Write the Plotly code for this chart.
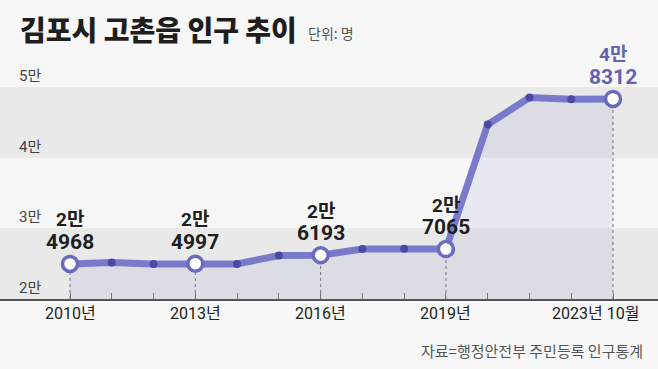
import plotly.graph_objects as go

years = ["2010", "2011", "2012", "2013", "2014", "2015", "2016", "2017", "2018", "2019", "2020", "2021", "2022", "2023.10"]
population = [24968, 25180, 24950, 24997, 24960, 26150, 26193, 27080, 27100, 27065, 44700, 48500, 48250, 48312]
labeled_idx = [0, 3, 6, 9, 13]
label_top = ["2만", "2만", "2만", "2만", "4만"]
label_num = ["4968", "4997", "6193", "7065", "8312"]
xtick_text = ["2010년", "2013년", "2016년", "2019년", "2023년 10월"]
ytick_vals = [20000, 30000, 40000, 50000]
ytick_text = ["2만", "3만", "4만", "5만"]
bands = [(20000, 30000), (40000, 50000)]

NARROW = "Roboto, Noto Sans CJK KR, sans-serif"
CJK = "Noto Sans CJK KR, sans-serif"
LINE = "#7a7acb"
DOT = "#4a4aa6"
BG = "#f7f7f7"
BAND = "#e9e9e9"

xs = list(range(len(years)))
fig = go.Figure()

fig.add_trace(go.Scatter(
    x=xs, y=population, mode="lines",
    line=dict(color=LINE, width=7),
    fill="tozeroy", fillcolor="rgba(110,110,200,0.10)",
    hoverinfo="skip", showlegend=False, cliponaxis=False,
))
small = [i for i in xs if i not in labeled_idx]
fig.add_trace(go.Scatter(
    x=small, y=[population[i] for i in small], mode="markers",
    marker=dict(color=DOT, size=8), showlegend=False, cliponaxis=False,
))
fig.add_trace(go.Scatter(
    x=labeled_idx, y=[population[i] for i in labeled_idx], mode="markers",
    marker=dict(color="white", size=15, line=dict(color="#6a6abf", width=3.5)),
    showlegend=False, cliponaxis=False,
))

shapes = []
for lo, hi in bands:
    shapes.append(dict(type="rect", xref="paper", x0=0, x1=1, yref="y", y0=lo, y1=hi,
                       fillcolor=BAND, line=dict(width=0), layer="below"))
for i in labeled_idx:
    shapes.append(dict(type="line", xref="x", x0=i, x1=i, yref="y", y0=20000, y1=population[i],
                       line=dict(color="#777777", width=1, dash="dot"), layer="below"))

annotations = []
# title
annotations.append(dict(xref="paper", yref="paper", x=0.027, y=1, yshift=1, xanchor="left", yanchor="middle",
                        text="김포시 고촌읍 인구 추이", showarrow=False,
                        font=dict(family=CJK, size=28, color="#1e1e1e", weight=900)))
annotations.append(dict(xref="paper", yref="paper", x=0.465, y=1, yshift=-3, xanchor="left", yanchor="middle",
                        text="단위: 명", showarrow=False,
                        font=dict(family=CJK, size=14, color="#555555")))
# y labels
for v, t in zip(ytick_vals, ytick_text):
    annotations.append(dict(xref="paper", yref="y", x=0.026, y=v, yshift=11, xanchor="left", yanchor="middle",
                            text=t, showarrow=False, font=dict(family=NARROW, size=15, color="#444444")))
# x labels
for k, (i, t) in enumerate(zip(labeled_idx, xtick_text)):
    annotations.append(dict(xref="x", yref="y", x=i, y=20000, yshift=-14, xanchor="center", yanchor="middle",
                            xshift=-18 if k == len(labeled_idx) - 1 else 0,
                            text=t, showarrow=False, font=dict(family=NARROW, size=16, color="#222222")))
# value labels
for k, i in enumerate(labeled_idx):
    col = "#6363b5" if k == len(labeled_idx) - 1 else "#1e1e1e"
    annotations.append(dict(xref="x", yref="y", x=i, y=population[i], yshift=22, xanchor="center", yanchor="middle",
                            text="<b>%s</b>" % label_num[k], showarrow=False,
                            font=dict(family=NARROW, size=21, color=col)))
    annotations.append(dict(xref="x", yref="y", x=i, y=population[i], yshift=44, xanchor="center", yanchor="middle",
                            text="<b>%s</b>" % label_top[k], showarrow=False,
                            font=dict(family=NARROW, size=19, color=col)))
# source
annotations.append(dict(xref="paper", yref="paper", x=0.98, y=0, yshift=-51, xanchor="right", yanchor="middle",
                        text="자료=행정안전부 주민등록 인구통계", showarrow=False,
                        font=dict(family=CJK, size=15, color="#555555")))

fig.update_layout(
    width=658, height=369,
    margin=dict(l=0, r=0, t=30, b=70),
    paper_bgcolor=BG, plot_bgcolor=BG,
    shapes=shapes, annotations=annotations,
    xaxis=dict(range=[-1.676, 14.077], tickvals=xs, ticks="inside", ticklen=6, tickcolor="#777777",
               showticklabels=False, showgrid=False, zeroline=False,
               showline=True, linecolor="#555555", linewidth=1.5),
    yaxis=dict(range=[20000, 58066], showticklabels=False, showgrid=False, zeroline=False, showline=False),
    showlegend=False,
)

fig.write_html("out.html", config={"displayModeBar": False},
               post_script="document.body.style.margin='0';document.body.style.background='#f7f7f7';")
